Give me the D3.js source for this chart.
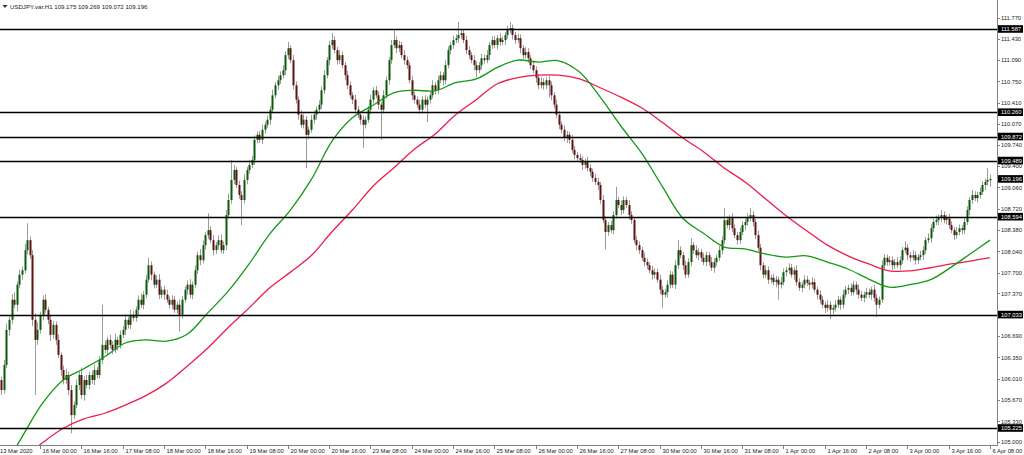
<!DOCTYPE html>
<html><head><meta charset="utf-8">
<script src="https://cdnjs.cloudflare.com/ajax/libs/d3/7.8.5/d3.min.js"></script>
<style>html,body{margin:0;padding:0;background:#fff;overflow:hidden}svg{display:block}</style>
</head><body><svg id="c" width="1024" height="455"></svg>
<script>
const symbol = "USDJPY.var.H1";
const lastOHLC = [109.175, 109.269, 109.072, 109.196];
const firstBarTime = "2020-03-13T09:00:00Z";
const firstLabel = "13 Mar 2020";
const xLabels = ["16 Mar 00:00","16 Mar 16:00","17 Mar 08:00","18 Mar 00:00","18 Mar 16:00","19 Mar 08:00","20 Mar 00:00","20 Mar 16:00","23 Mar 08:00","24 Mar 00:00","24 Mar 16:00","25 Mar 08:00","26 Mar 00:00","26 Mar 16:00","27 Mar 08:00","30 Mar 00:00","30 Mar 16:00","31 Mar 08:00","1 Apr 00:00","1 Apr 16:00","2 Apr 08:00","3 Apr 00:00","3 Apr 16:00","6 Apr 08:00"];
const yTicks = [111.770,111.430,111.090,110.750,110.410,110.070,109.740,109.400,109.060,108.720,108.380,108.040,107.700,107.370,106.690,106.350,106.010,105.670,105.330,105.000];
const levels = [111.587,110.260,109.872,109.489,108.594,107.033,105.225];
const bidPrice = 109.196;

const opens = [
105.99,105.83,106.23,106.79,106.95,107.27,107.19,107.51,107.67,107.74,
108.06,108.22,107.98,106.95,106.63,106.79,107.03,107.27,107.11,106.95,
106.71,106.87,106.63,106.39,106.15,105.99,106.07,105.83,105.43,105.59,
105.91,106.07,105.75,105.99,105.91,106.07,105.99,106.15,106.07,106.31,
106.55,106.47,106.63,106.55,106.47,106.63,106.55,106.71,106.79,106.95,
106.87,107.03,106.98,107.11,107.27,107.19,107.35,107.59,107.82,107.67,
107.51,107.59,107.35,107.43,107.35,107.27,107.19,107.27,107.11,107.19,
107.03,107.27,107.43,107.51,107.35,107.51,107.74,107.98,107.90,108.14,
108.30,108.38,108.22,108.06,108.14,108.22,108.06,108.14,108.62,108.86,
109.18,109.34,109.10,108.94,108.86,109.18,109.34,109.42,109.50,109.82,
109.90,109.82,109.98,110.06,110.14,110.30,110.53,110.69,110.77,110.85,
110.93,111.17,111.28,111.09,110.69,110.46,110.22,110.06,110.14,109.90,
109.98,110.14,110.22,110.30,110.38,110.61,110.85,111.09,111.33,111.41,
111.25,111.09,111.17,111.01,110.85,110.69,110.53,110.46,110.30,110.22,
110.14,110.06,110.14,110.30,110.46,110.61,110.53,110.38,110.30,110.53,
110.77,111.09,111.33,111.41,111.28,111.33,111.17,111.09,111.01,110.77,
110.53,110.46,110.38,110.30,110.46,110.38,110.46,110.53,110.69,110.61,
110.77,110.85,110.77,111.01,111.25,111.33,111.41,111.44,111.49,111.52,
111.41,111.25,111.17,111.09,111.01,110.93,111.01,111.12,111.09,111.17,
111.33,111.41,111.33,111.44,111.38,111.41,111.49,111.57,111.60,111.49,
111.41,111.44,111.28,111.17,111.22,111.12,111.01,110.93,110.81,110.69,
110.74,110.69,110.77,110.69,110.53,110.38,110.22,110.06,109.98,109.85,
109.90,109.82,109.66,109.58,109.53,109.50,109.42,109.47,109.37,109.31,
109.21,109.15,109.10,108.86,108.54,108.35,108.46,108.38,108.62,108.86,
108.78,108.70,108.86,108.78,108.62,108.54,108.22,108.14,108.06,107.94,
107.87,107.82,107.74,107.67,107.71,107.59,107.43,107.35,107.39,107.51,
107.67,107.51,107.82,108.06,107.98,107.82,107.67,107.87,108.14,108.06,
107.98,108.03,107.94,107.87,107.98,107.87,107.78,107.87,107.94,108.06,
108.22,108.54,108.46,108.57,108.41,108.30,108.22,108.35,108.46,108.51,
108.57,108.62,108.51,108.30,108.10,107.82,107.67,107.74,107.59,107.62,
107.55,107.59,107.51,107.55,107.71,107.74,107.78,107.67,107.74,107.55,
107.46,107.51,107.59,107.54,107.51,107.55,107.43,107.35,107.27,107.19,
107.14,107.19,107.11,107.14,107.19,107.27,107.19,107.35,107.43,107.46,
107.39,107.51,107.43,107.35,107.30,107.35,107.39,107.35,107.43,107.30,
107.19,107.27,107.82,107.94,107.87,107.90,107.82,107.87,107.82,107.90,
108.06,108.10,107.98,107.94,107.98,107.90,107.95,107.98,108.06,108.22,
108.25,108.41,108.51,108.54,108.57,108.62,108.54,108.57,108.46,108.38,
108.30,108.35,108.41,108.38,108.51,108.70,108.86,108.94,108.89,108.94,
108.99,109.10,109.15,109.175];

const closes = [
105.83,106.23,106.79,106.95,107.27,107.19,107.51,107.67,107.74,108.06,
108.22,107.98,106.95,106.63,106.79,107.03,107.27,107.11,106.95,106.71,
106.87,106.63,106.39,106.15,105.99,106.07,105.83,105.43,105.59,105.91,
106.07,105.75,105.99,105.91,106.07,105.99,106.15,106.07,106.31,106.55,
106.47,106.63,106.55,106.47,106.63,106.55,106.71,106.79,106.95,106.87,
107.03,106.98,107.11,107.27,107.19,107.35,107.59,107.82,107.67,107.51,
107.59,107.35,107.43,107.35,107.27,107.19,107.27,107.11,107.19,107.03,
107.27,107.43,107.51,107.35,107.51,107.74,107.98,107.90,108.14,108.30,
108.38,108.22,108.06,108.14,108.22,108.06,108.14,108.62,108.86,109.18,
109.34,109.10,108.94,108.86,109.18,109.34,109.42,109.50,109.82,109.90,
109.82,109.98,110.06,110.14,110.30,110.53,110.69,110.77,110.85,110.93,
111.17,111.28,111.09,110.69,110.46,110.22,110.06,110.14,109.90,109.98,
110.14,110.22,110.30,110.38,110.61,110.85,111.09,111.33,111.41,111.25,
111.09,111.17,111.01,110.85,110.69,110.53,110.46,110.30,110.22,110.14,
110.06,110.14,110.30,110.46,110.61,110.53,110.38,110.30,110.53,110.77,
111.09,111.33,111.41,111.28,111.33,111.17,111.09,111.01,110.77,110.53,
110.46,110.38,110.30,110.46,110.38,110.46,110.53,110.69,110.61,110.77,
110.85,110.77,111.01,111.25,111.33,111.41,111.44,111.49,111.52,111.41,
111.25,111.17,111.09,111.01,110.93,111.01,111.12,111.09,111.17,111.33,
111.41,111.33,111.44,111.38,111.41,111.49,111.57,111.60,111.49,111.41,
111.44,111.28,111.17,111.22,111.12,111.01,110.93,110.81,110.69,110.74,
110.69,110.77,110.69,110.53,110.38,110.22,110.06,109.98,109.85,109.90,
109.82,109.66,109.58,109.53,109.50,109.42,109.47,109.37,109.31,109.21,
109.15,109.10,108.86,108.54,108.35,108.46,108.38,108.62,108.86,108.78,
108.70,108.86,108.78,108.62,108.54,108.22,108.14,108.06,107.94,107.87,
107.82,107.74,107.67,107.71,107.59,107.43,107.35,107.39,107.51,107.67,
107.51,107.82,108.06,107.98,107.82,107.67,107.87,108.14,108.06,107.98,
108.03,107.94,107.87,107.98,107.87,107.78,107.87,107.94,108.06,108.22,
108.54,108.46,108.57,108.41,108.30,108.22,108.35,108.46,108.51,108.57,
108.62,108.51,108.30,108.10,107.82,107.67,107.74,107.59,107.62,107.55,
107.59,107.51,107.55,107.71,107.74,107.78,107.67,107.74,107.55,107.46,
107.51,107.59,107.54,107.51,107.55,107.43,107.35,107.27,107.19,107.14,
107.19,107.11,107.14,107.19,107.27,107.19,107.35,107.43,107.46,107.39,
107.51,107.43,107.35,107.30,107.35,107.39,107.35,107.43,107.30,107.19,
107.27,107.82,107.94,107.87,107.90,107.82,107.87,107.82,107.90,108.06,
108.10,107.98,107.94,107.98,107.90,107.95,107.98,108.06,108.22,108.25,
108.41,108.51,108.54,108.57,108.62,108.54,108.57,108.46,108.38,108.30,
108.35,108.41,108.38,108.51,108.70,108.86,108.94,108.89,108.94,108.99,
109.10,109.15,109.18,109.196];

const wickUp = [
0.05,0.08,0.10,0.06,0.09,0.12,0.05,0.08,0.06,0.10,
0.27,0.06,0.08,0.10,0.12,0.05,0.07,0.09,0.05,0.08,
0.06,0.05,0.09,0.04,0.07,0.10,0.05,0.08,0.06,0.09,
0.05,0.12,0.06,0.08,0.05,0.07,0.09,0.05,0.06,0.64,
0.07,0.05,0.08,0.06,0.10,0.05,0.07,0.06,0.09,0.05,
0.08,0.06,0.05,0.07,0.10,0.06,0.08,0.12,0.06,0.05,
0.07,0.09,0.05,0.06,0.08,0.05,0.07,0.06,0.05,0.08,
0.06,0.05,0.07,0.09,0.05,0.08,0.06,0.10,0.07,0.05,
0.27,0.06,0.08,0.05,0.07,0.09,0.06,0.08,0.10,0.32,
0.08,0.05,0.07,0.06,0.09,0.05,0.08,0.06,0.07,0.05,
0.06,0.08,0.05,0.07,0.06,0.09,0.05,0.07,0.06,0.08,
0.06,0.10,0.05,0.08,0.06,0.05,0.07,0.09,0.06,0.05,
0.08,0.06,0.05,0.07,0.06,0.08,0.05,0.07,0.11,0.06,
0.05,0.08,0.06,0.05,0.07,0.06,0.05,0.08,0.06,0.05,
0.07,0.05,0.06,0.08,0.05,0.07,0.06,0.05,0.08,0.06,
0.05,0.08,0.16,0.06,0.07,0.05,0.08,0.06,0.05,0.07,
0.06,0.05,0.08,0.06,0.07,0.05,0.06,0.08,0.05,0.07,
0.06,0.05,0.08,0.06,0.05,0.07,0.06,0.21,0.06,0.05,
0.07,0.06,0.05,0.08,0.06,0.05,0.07,0.06,0.08,0.05,
0.06,0.07,0.05,0.08,0.06,0.05,0.07,0.10,0.06,0.05,
0.07,0.06,0.05,0.08,0.06,0.05,0.07,0.06,0.05,0.08,
0.06,0.05,0.07,0.06,0.05,0.08,0.06,0.05,0.07,0.06,
0.05,0.08,0.06,0.05,0.07,0.06,0.05,0.08,0.06,0.05,
0.07,0.06,0.05,0.08,0.06,0.05,0.07,0.06,0.21,0.05,
0.07,0.06,0.05,0.08,0.06,0.05,0.07,0.06,0.05,0.08,
0.06,0.05,0.07,0.06,0.05,0.08,0.06,0.05,0.07,0.06,
0.05,0.08,0.16,0.06,0.05,0.07,0.06,0.11,0.05,0.08,
0.06,0.05,0.07,0.06,0.05,0.08,0.06,0.05,0.07,0.06,
0.19,0.06,0.05,0.08,0.06,0.05,0.07,0.06,0.05,0.08,
0.11,0.06,0.05,0.07,0.06,0.05,0.08,0.06,0.05,0.07,
0.06,0.05,0.08,0.06,0.05,0.07,0.06,0.05,0.08,0.06,
0.05,0.07,0.06,0.05,0.08,0.06,0.05,0.07,0.06,0.05,
0.08,0.06,0.05,0.07,0.06,0.05,0.08,0.06,0.05,0.07,
0.06,0.05,0.08,0.06,0.05,0.07,0.06,0.05,0.08,0.06,
0.05,0.08,0.06,0.05,0.07,0.06,0.05,0.08,0.06,0.05,
0.10,0.06,0.05,0.08,0.06,0.05,0.07,0.06,0.05,0.08,
0.06,0.05,0.07,0.06,0.08,0.06,0.05,0.07,0.06,0.05,
0.08,0.06,0.05,0.07,0.06,0.05,0.08,0.06,0.05,0.07,
0.06,0.05,0.19,0.073];

const wickDown = [
0.08,0.06,0.05,0.09,0.07,0.05,0.10,0.06,0.08,0.05,
0.07,0.06,0.10,0.88,0.08,0.06,0.09,0.05,0.07,0.10,
0.06,0.08,0.05,0.09,0.07,0.06,0.08,0.29,0.06,0.05,
0.08,0.06,0.09,0.05,0.07,0.06,0.08,0.05,0.06,0.07,
0.05,0.08,0.06,0.07,0.05,0.09,0.06,0.05,0.08,0.06,
0.07,0.05,0.06,0.08,0.05,0.07,0.06,0.05,0.09,0.06,
0.05,0.07,0.06,0.08,0.05,0.06,0.07,0.05,0.06,0.27,
0.06,0.05,0.08,0.06,0.07,0.05,0.06,0.08,0.05,0.07,
0.06,0.05,0.08,0.06,0.07,0.05,0.06,0.08,0.05,0.06,
0.07,0.05,0.06,0.40,0.05,0.07,0.06,0.05,0.08,0.06,
0.05,0.07,0.06,0.05,0.08,0.06,0.05,0.07,0.06,0.05,
0.08,0.06,0.05,0.07,0.06,0.08,0.05,0.06,0.53,0.07,
0.05,0.06,0.08,0.05,0.07,0.06,0.05,0.08,0.06,0.05,
0.07,0.06,0.05,0.08,0.06,0.05,0.07,0.06,0.05,0.08,
0.37,0.06,0.05,0.07,0.06,0.05,0.08,0.48,0.06,0.05,
0.07,0.06,0.05,0.08,0.06,0.05,0.07,0.06,0.05,0.08,
0.06,0.05,0.07,0.06,0.05,0.28,0.06,0.05,0.07,0.06,
0.05,0.08,0.06,0.05,0.07,0.06,0.05,0.08,0.06,0.05,
0.07,0.06,0.05,0.08,0.11,0.05,0.07,0.06,0.05,0.08,
0.06,0.05,0.07,0.06,0.05,0.08,0.06,0.05,0.07,0.06,
0.05,0.08,0.06,0.05,0.07,0.06,0.05,0.08,0.06,0.05,
0.07,0.06,0.20,0.08,0.06,0.05,0.07,0.06,0.05,0.08,
0.06,0.05,0.07,0.06,0.05,0.08,0.06,0.05,0.07,0.06,
0.05,0.08,0.06,0.05,0.28,0.06,0.05,0.07,0.06,0.05,
0.08,0.06,0.05,0.07,0.06,0.05,0.08,0.06,0.05,0.07,
0.06,0.05,0.08,0.06,0.05,0.07,0.21,0.05,0.08,0.06,
0.05,0.07,0.06,0.05,0.08,0.06,0.05,0.07,0.06,0.05,
0.08,0.06,0.05,0.07,0.06,0.05,0.08,0.06,0.05,0.07,
0.06,0.05,0.08,0.06,0.05,0.07,0.06,0.05,0.08,0.06,
0.05,0.07,0.06,0.05,0.08,0.06,0.05,0.07,0.06,0.05,
0.08,0.24,0.06,0.05,0.07,0.06,0.05,0.08,0.06,0.05,
0.07,0.06,0.05,0.08,0.06,0.05,0.07,0.06,0.05,0.08,
0.06,0.15,0.07,0.06,0.05,0.08,0.06,0.05,0.07,0.06,
0.05,0.08,0.06,0.05,0.07,0.06,0.05,0.08,0.06,0.20,
0.06,0.05,0.07,0.06,0.05,0.08,0.06,0.05,0.07,0.06,
0.05,0.08,0.06,0.05,0.07,0.06,0.05,0.08,0.06,0.05,
0.07,0.06,0.05,0.08,0.06,0.05,0.07,0.06,0.05,0.08,
0.06,0.05,0.07,0.06,0.05,0.08,0.06,0.05,0.07,0.06,
0.05,0.08,0.06,0.103];

// Moving averages read every 8 bars (last point at the final bar)
const maStep = 8;
const maFast = [104.52,105.08,105.62,105.99,106.17,106.36,106.58,106.63,106.61,106.72,107.06,107.41,107.84,108.32,108.70,109.18,109.79,110.17,110.37,110.57,110.61,110.60,110.73,110.79,110.97,111.09,111.06,111.08,110.90,110.50,110.04,109.61,109.08,108.57,108.33,108.11,108.08,108.00,107.95,107.97,107.87,107.76,107.60,107.47,107.51,107.59,107.79,108.02,108.22];
const maSlow = [104.44,104.72,104.99,105.22,105.37,105.46,105.59,105.74,105.94,106.21,106.50,106.83,107.14,107.46,107.71,107.97,108.35,108.70,109.08,109.37,109.67,109.91,110.22,110.46,110.71,110.81,110.85,110.85,110.79,110.65,110.50,110.33,110.10,109.85,109.63,109.37,109.15,108.88,108.61,108.37,108.14,107.97,107.84,107.73,107.73,107.78,107.84,107.89,107.94];

// ---------- drawing ----------
const plotR = 997, plotB = 445;
const n = closes.length;
const months = ["Jan","Feb","Mar","Apr","May","Jun","Jul","Aug","Sep","Oct","Nov","Dec"];
const times = [];
let t = Date.parse(firstBarTime);
while (times.length < n) { const d = new Date(t); const wd = d.getUTCDay(); if (wd !== 0 && wd !== 6) times.push(d); t += 3600e3; }
const pad = v => String(v).padStart(2, "0");
const fmt = d => `${d.getUTCDate()} ${months[d.getUTCMonth()]} ${pad(d.getUTCHours())}:${pad(d.getUTCMinutes())}`;
const timeLabels = times.map(fmt);

const x = d3.scaleLinear().domain([0, n - 1]).range([1.3, 990]);
const y = d3.scaleLinear().domain([105.0, 111.77]).range([442.1, 17.5]);

const svg = d3.select("#c");
const FONT = "'Liberation Sans', Arial, sans-serif";
const FS = 5.8;
svg.append("defs").append("clipPath").attr("id", "clip").append("rect").attr("x", 0).attr("y", 0).attr("width", plotR).attr("height", plotB);
const plot = svg.append("g").attr("clip-path", "url(#clip)");

const bars = d3.range(n).map(i => ({
  i, o: opens[i], c: closes[i],
  h: Math.max(opens[i], closes[i]) + wickUp[i],
  l: Math.min(opens[i], closes[i]) - wickDown[i]
}));

plot.append("g").selectAll("line").data(bars).join("line")
  .attr("x1", d => Math.round(x(d.i)) + 0.5).attr("x2", d => Math.round(x(d.i)) + 0.5)
  .attr("y1", d => y(d.h)).attr("y2", d => y(d.l))
  .attr("stroke", "#9b9b9b").attr("stroke-width", 1);
plot.append("g").selectAll("rect").data(bars).join("rect")
  .attr("x", d => Math.round(x(d.i)) - 0.5).attr("width", 2)
  .attr("y", d => y(Math.max(d.o, d.c)))
  .attr("height", d => Math.max(1, Math.abs(y(d.o) - y(d.c))))
  .attr("fill", d => d.c >= d.o ? "#0b5a0b" : "#5e1212");

const maIdx = maFast.map((_, k) => Math.min(k * maStep, n - 1));
const line = d3.line().x((d, k) => x(maIdx[k])).y(d => y(d)).curve(d3.curveCatmullRom);
plot.append("path").datum(maSlow).attr("d", line).attr("fill", "none").attr("stroke", "#ec1c4c").attr("stroke-width", 1.3);
plot.append("path").datum(maFast).attr("d", line).attr("fill", "none").attr("stroke", "#139a13").attr("stroke-width", 1.3);

svg.append("g").selectAll("line").data(levels).join("line")
  .attr("x1", 0).attr("x2", plotR).attr("y1", d => Math.round(y(d)) + 0.5).attr("y2", d => Math.round(y(d)) + 0.5)
  .attr("stroke", "#000").attr("stroke-width", 1.4);

svg.append("line").attr("x1", plotR + 0.5).attr("x2", plotR + 0.5).attr("y1", 0).attr("y2", plotB + 1).attr("stroke", "#808080");
svg.append("line").attr("x1", 0).attr("x2", plotR + 1).attr("y1", plotB + 0.5).attr("y2", plotB + 0.5).attr("stroke", "#808080");

const ra = svg.append("g");
ra.selectAll("line").data(yTicks).join("line")
  .attr("x1", plotR).attr("x2", plotR + 3).attr("y1", d => Math.round(y(d)) + 0.5).attr("y2", d => Math.round(y(d)) + 0.5)
  .attr("stroke", "#808080");
ra.selectAll("text").data(yTicks).join("text")
  .attr("x", 1001).attr("y", d => y(d) + 2.1)
  .attr("font-family", FONT).attr("font-size", FS).attr("fill", "#222")
  .text(d => d.toFixed(3));

const boxes = svg.append("g").selectAll("g").data(levels.concat([bidPrice])).join("g");
boxes.append("rect").attr("x", 998).attr("width", 25).attr("y", d => y(d) - 3.8).attr("height", 7.6).attr("fill", "#000");
boxes.append("text").attr("x", 1001).attr("y", d => y(d) + 2.1)
  .attr("font-family", FONT).attr("font-size", FS).attr("fill", "#fff").text(d => d.toFixed(3));

const ba = svg.append("g");
const tickIdx = xLabels.map(s => timeLabels.indexOf(s));
ba.selectAll("line").data(tickIdx).join("line")
  .attr("x1", d => Math.round(x(d)) + 0.5).attr("x2", d => Math.round(x(d)) + 0.5)
  .attr("y1", plotB).attr("y2", plotB + 4).attr("stroke", "#808080");
ba.selectAll("text").data(xLabels).join("text")
  .attr("x", (d, k) => Math.round(x(tickIdx[k])) + 2.5).attr("y", 453)
  .attr("font-family", FONT).attr("font-size", FS).attr("fill", "#222").text(d => d);
ba.append("text").attr("x", 0).attr("y", 453).attr("font-family", FONT).attr("font-size", FS).attr("fill", "#222").text(firstLabel);

svg.append("path").attr("d", "M2.5,5 L7.5,5 L5,8 Z").attr("fill", "#333");
svg.append("text").attr("x", 10).attr("y", 8.5).attr("font-family", FONT).attr("font-size", 6.1).attr("fill", "#222")
  .text(symbol + "  " + lastOHLC.map(v => v.toFixed(3)).join(" "));
</script></body></html>
